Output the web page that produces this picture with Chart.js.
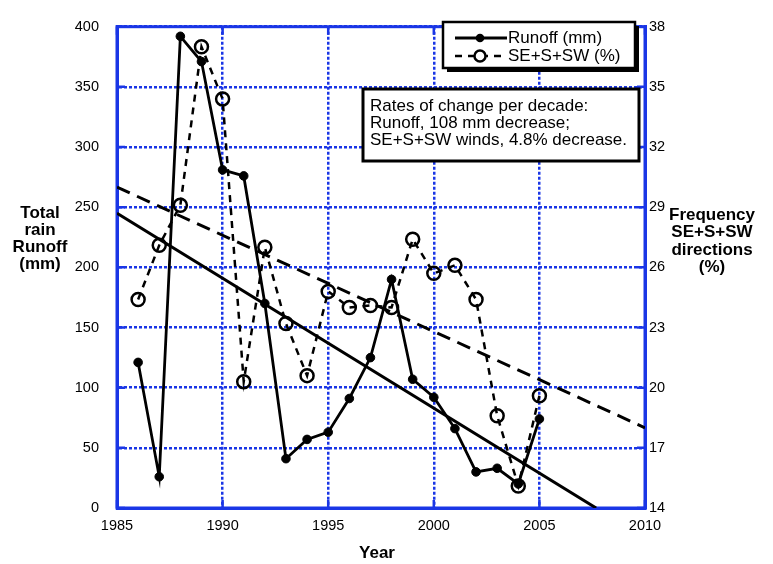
<!DOCTYPE html>
<html>
<head>
<meta charset="utf-8">
<title>Runoff and southerly winds</title>
<script src="https://cdn.jsdelivr.net/npm/chart.js@4.4.1/dist/chart.umd.min.js"></script>
<style>
  html, body { margin: 0; padding: 0; background: #fff; }
  canvas { display: block; }
</style>
</head>
<body>
<canvas id="runoffChart" width="773" height="564"></canvas>
<script>
// annual values
const years = [1986, 1987, 1988, 1989, 1990, 1991, 1992, 1993, 1994, 1995,
               1996, 1997, 1998, 1999, 2000, 2001, 2002, 2003, 2004, 2005];
const runoffMm = [121, 26, 392, 371, 281, 276, 170, 41, 57, 63,
                  91, 125, 190, 107, 92, 66, 30, 33, 20, 74];
const windPct = [24.4, 27.1, 29.1, 37.0, 34.4, 20.3, 27.0, 23.2, 20.6, 24.8,
                 24.0, 24.1, 24.0, 27.4, 25.7, 26.1, 24.4, 18.6, 15.1, 19.6];

// linear trends: value at 1985 and change per decade
const runoffTrend = { start: 245, perDecade: -108 };
const windTrend = { start: 30.0, perDecade: -4.8 };

const yearRange = [1985, 2010];
const runoffRange = [0, 400];
const windRange = [14, 38];

const legendLabels = ['Runoff (mm)', 'SE+S+SW (%)'];
const noteLines = ['Rates of change per decade:', 'Runoff, 108 mm decrease;', 'SE+S+SW winds, 4.8% decrease.'];
const leftTitle = ['Total', 'rain', 'Runoff', '(mm)'];
const rightTitle = ['Frequency', 'SE+S+SW', 'directions', '(%)'];
const xTitle = 'Year';

const BLUE = '#1a36e6';
const FONT = '"Liberation Sans", Arial, Helvetica, sans-serif';

function trendPoints(t, x0, x1, floor) {
  const slope = t.perDecade / 10;
  let end = x1;
  if (floor !== undefined && t.start + slope * (x1 - x0) < floor) end = x0 + (floor - t.start) / slope;
  return [{ x: x0, y: t.start }, { x: end, y: t.start + slope * (end - x0) }];
}

const runoffSeries = years.map((y, i) => ({ x: y, y: runoffMm[i] }));
const windSeries = years.map((y, i) => ({ x: y, y: windPct[i] }));

const decorations = {
  id: 'decorations',
  beforeDatasetsDraw(chart) {
    const { ctx, chartArea: a, scales } = chart;
    ctx.save();
    ctx.strokeStyle = BLUE;
    ctx.lineWidth = 2.5;
    ctx.beginPath();
    // short inward ticks on all four sides
    for (let v = runoffRange[0]; v <= runoffRange[1]; v += 50) {
      const py = scales.y.getPixelForValue(v);
      ctx.moveTo(a.left, py); ctx.lineTo(a.left + 8, py);
      ctx.moveTo(a.right, py); ctx.lineTo(a.right - 8, py);
    }
    for (let v = yearRange[0]; v <= yearRange[1]; v += 5) {
      const px = scales.x.getPixelForValue(v);
      ctx.moveTo(px, a.bottom); ctx.lineTo(px, a.bottom - 8);
      ctx.moveTo(px, a.top); ctx.lineTo(px, a.top + 8);
    }
    ctx.stroke();
    ctx.lineWidth = 3;
    ctx.strokeRect(a.left, a.top, a.right - a.left, a.bottom - a.top);
    ctx.restore();
  },
  afterDatasetsDraw(chart) {
    const { ctx } = chart;
    ctx.save();

    // legend box with drop shadow
    const lx = 443, ly = 22, lw = 192, lh = 46;
    ctx.fillStyle = '#000';
    ctx.fillRect(lx + 4, ly + 4, lw, lh);
    ctx.fillStyle = '#fff';
    ctx.fillRect(lx, ly, lw, lh);
    ctx.strokeStyle = '#000';
    ctx.lineWidth = 2.5;
    ctx.strokeRect(lx, ly, lw, lh);

    const rows = [38, 56];
    chart.data.datasets.slice(0, 2).forEach((ds, i) => {
      const y = rows[i];
      ctx.strokeStyle = '#000';
      ctx.lineWidth = ds.borderWidth;
      ctx.setLineDash(ds.borderDash || []);
      ctx.beginPath();
      ctx.moveTo(455, y); ctx.lineTo(507, y);
      ctx.stroke();
      ctx.setLineDash([]);
      ctx.beginPath();
      if (ds.pointBackgroundColor === '#000') {
        ctx.arc(480, y, ds.pointRadius, 0, Math.PI * 2);
        ctx.fillStyle = '#000'; ctx.fill();
      } else {
        ctx.arc(480, y, 5.5, 0, Math.PI * 2);
        ctx.fillStyle = '#fff'; ctx.fill();
        ctx.lineWidth = ds.pointBorderWidth; ctx.stroke();
      }
      ctx.fillStyle = '#000';
      ctx.font = '17px ' + FONT;
      ctx.textBaseline = 'middle';
      ctx.textAlign = 'left';
      ctx.fillText(legendLabels[i], 508, y);
    });

    // rates note
    const nx = 363, ny = 89, nw = 276, nh = 72;
    ctx.fillStyle = '#fff';
    ctx.fillRect(nx, ny, nw, nh);
    ctx.strokeStyle = '#000';
    ctx.lineWidth = 3;
    ctx.strokeRect(nx, ny, nw, nh);
    ctx.fillStyle = '#000';
    ctx.font = '17px ' + FONT;
    ctx.textBaseline = 'middle';
    noteLines.forEach((t, i) => ctx.fillText(t, 370, 106 + i * 17));
    ctx.restore();
  },
  afterDraw(chart) {
    const { ctx } = chart;
    ctx.save();
    ctx.fillStyle = '#000';
    ctx.font = 'bold 17px ' + FONT;
    ctx.textAlign = 'center';
    ctx.textBaseline = 'middle';
    leftTitle.forEach((t, i) => ctx.fillText(t, 40, 213 + i * 17));
    rightTitle.forEach((t, i) => ctx.fillText(t, 712, 215 + i * 17.5));
    ctx.fillText(xTitle, 377, 553);
    ctx.restore();
  }
};

new Chart(document.getElementById('runoffChart'), {
  type: 'line',
  data: {
    datasets: [
      {
        label: legendLabels[0],
        data: runoffSeries,
        yAxisID: 'y',
        borderColor: '#000',
        borderWidth: 2.8,
        pointRadius: 4.3,
        pointBackgroundColor: '#000',
        pointBorderColor: '#000',
        pointBorderWidth: 1,
        tension: 0
      },
      {
        label: legendLabels[1],
        data: windSeries,
        yAxisID: 'y1',
        borderColor: '#000',
        borderWidth: 2.5,
        borderDash: [7, 6],
        pointRadius: 6.5,
        pointBackgroundColor: 'rgba(0,0,0,0)',
        pointBorderColor: '#000',
        pointBorderWidth: 2.5,
        tension: 0
      },
      {
        label: 'Runoff trend',
        data: trendPoints(runoffTrend, yearRange[0], yearRange[1], runoffRange[0]),
        yAxisID: 'y',
        borderColor: '#000',
        borderWidth: 3,
        pointRadius: 0
      },
      {
        label: 'Wind trend',
        data: trendPoints(windTrend, yearRange[0], yearRange[1]),
        yAxisID: 'y1',
        borderColor: '#000',
        borderWidth: 3,
        borderDash: [14, 8],
        pointRadius: 0
      }
    ]
  },
  options: {
    responsive: false,
    animation: false,
    devicePixelRatio: 1,
    layout: { padding: { top: 17, left: 0, right: 0, bottom: 0 } },
    plugins: { legend: { display: false }, tooltip: { enabled: false } },
    scales: {
      x: {
        type: 'linear',
        min: yearRange[0],
        max: yearRange[1],
        afterFit: s => { s.height = 56; },
        ticks: {
          stepSize: 5,
          padding: 9,
          color: '#000',
          font: { family: FONT, size: 14.5 },
          callback: v => String(v)
        },
        grid: { color: BLUE, lineWidth: 2.5, drawTicks: false },
        border: { color: BLUE, width: 3, dash: [3, 2] }
      },
      y: {
        position: 'left',
        min: runoffRange[0],
        max: runoffRange[1],
        afterFit: s => { s.width = 117; },
        ticks: {
          stepSize: 50,
          padding: 18,
          color: '#000',
          font: { family: FONT, size: 14.5 }
        },
        grid: { color: BLUE, lineWidth: 2.5, drawTicks: false },
        border: { color: BLUE, width: 3, dash: [3, 2] }
      },
      y1: {
        position: 'right',
        min: windRange[0],
        max: windRange[1],
        afterFit: s => { s.width = 128; },
        ticks: {
          stepSize: 3,
          padding: 4,
          color: '#000',
          font: { family: FONT, size: 14.5 }
        },
        grid: { drawOnChartArea: false, drawTicks: false },
        border: { color: BLUE, width: 3 }
      }
    }
  },
  plugins: [decorations]
});
</script>
</body>
</html>
